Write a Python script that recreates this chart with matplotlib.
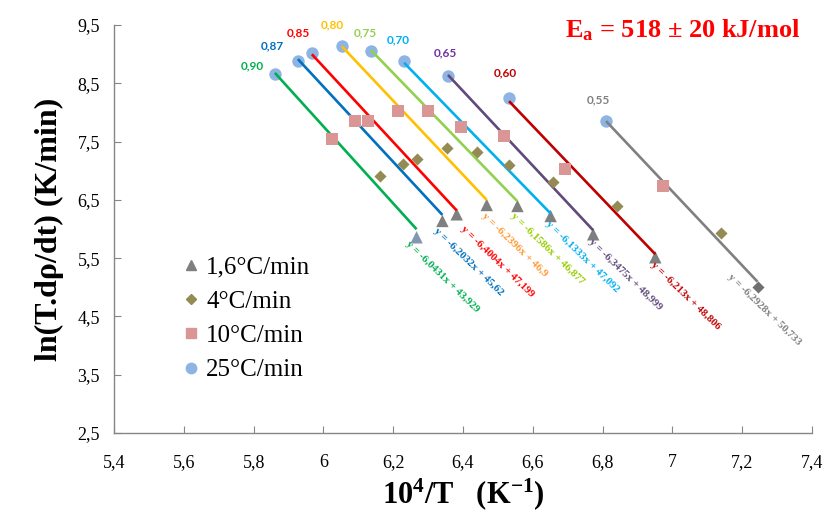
import numpy as np
import matplotlib
matplotlib.use("Agg")
import matplotlib.pyplot as plt
from matplotlib.ticker import FuncFormatter, MultipleLocator, FixedLocator
from matplotlib.lines import Line2D

plt.rcParams['font.family'] = ['Liberation Serif', 'DejaVu Serif']
plt.rcParams['mathtext.fontset'] = 'custom'
plt.rcParams['mathtext.rm'] = 'Liberation Serif'
plt.rcParams['mathtext.bf'] = 'Liberation Serif:bold'
plt.rcParams['mathtext.it'] = 'Liberation Serif:italic'

# ---------------- data ----------------
conversions = ["0,90", "0,87", "0,85", "0,80", "0,75", "0,70", "0,65", "0,60", "0,55"]

x_25 = [5.861, 5.927, 5.967, 6.053, 6.136, 6.231, 6.357, 6.532, 6.810]
y_25 = [8.659, 8.882, 9.020, 9.140, 9.054, 8.880, 8.625, 8.248, 7.853]

x_10 = [6.024, 6.090, 6.128, 6.214, 6.300, 6.394, 6.517, 6.693, 6.974]
y_10 = [7.539, 7.848, 7.858, 8.025, 8.025, 7.755, 7.601, 7.030, 6.743]

x_4 = [6.162, 6.229, 6.268, 6.353, 6.439, 6.533, 6.659, 6.842, 7.138]
y_4 = [6.910, 7.115, 7.196, 7.395, 7.326, 7.104, 6.812, 6.400, 5.927]

x_16 = [6.267, 6.341, 6.382, 6.468, 6.556, 6.651, 6.773, 6.951, 7.244]
y_16 = [5.858, 6.138, 6.252, 6.412, 6.395, 6.223, 5.909, 5.515, 5.000]

eq_slope = [-6.0431, -6.2032, -6.4004, -6.2396, -6.1586, -6.1333, -6.3475, -6.213, -6.2928]
eq_intercept = [43.929, 45.62, 47.199, 46.9, 46.877, 47.092, 48.999, 48.806, 50.733]

y_ticks = [2.5, 3.5, 4.5, 5.5, 6.5, 7.5, 8.5, 9.5]

series_labels = ["1,6°C/min", "4°C/min", "10°C/min", "25°C/min"]
ea_text = r"E$_{\mathbf{a}}$ = 518 ± 20 kJ/mol"

# ---------------- styles ----------------
line_colors = ["#00B050", "#0070C0", "#FF0000", "#FFC000", "#92D050",
               "#00B0F0", "#604A7B", "#C00000", "#808080"]
conv_colors = ["#00B050", "#0070C0", "#FF0000", "#FFC000", "#92D050",
               "#00B0F0", "#7030A0", "#C00000", "#808080"]
eq_colors = ["#00B050", "#0070C0", "#FF0000", "#FF9933", "#99CC00",
             "#00B0F0", "#604A7B", "#C00000", "#808080"]
conv_off = [(-23, 8), (-26, 15), (-14, 20), (-10, 21), (-6, 18),
            (-6, 21), (-3, 23), (-4, 25), (-8, 21)]
eq_off = [(-9, -5), (-7, -9), (5, -13), (-4, -10), (-5, -9),
          (-3, -7), (-3, -6), (-3, -6), (-28, 12)]

c_tri = "#7F7F7F"
c_dia = "#948A54"
c_sq = "#DA9694"
c_circ = "#8EB4E3"

W, H = 826, 512
fig = plt.figure(figsize=(W / 100, H / 100), dpi=100)
ax = fig.add_axes([114 / W, 1 - 433 / H, (812 - 114) / W, (433 - 25) / H])

# markers
ax.scatter(x_25, y_25, marker='o', s=80, color=c_circ, zorder=2, linewidths=0)
ax.scatter(x_10, y_10, marker='s', s=80, color=c_sq, zorder=4, linewidths=0)
ax.scatter(x_4, y_4, marker='D', s=38, color=c_dia, zorder=4, linewidths=0)
tri_cols = ["#8497B0"] + [c_tri] * 7
ax.scatter(x_16[:8], y_16[:8], marker='^', s=80, color=tri_cols, zorder=2, linewidths=0)
ax.scatter(x_16[8:], y_16[8:], marker='D', s=38, color="#707070", zorder=4, linewidths=0)

# trend lines (linear fits through the four points of each conversion)
for i in range(len(conversions)):
    xs = np.array([x_25[i], x_10[i], x_4[i], x_16[i]])
    ys = np.array([y_25[i], y_10[i], y_4[i], y_16[i]])
    p = np.polyfit(xs, ys, 1)
    xx = np.array([xs.min(), xs.max()])
    ax.plot(xx, np.polyval(p, xx), color=line_colors[i], lw=1.9, zorder=3,
            solid_capstyle='butt')
    ax.annotate(conversions[i], (x_25[i], y_25[i]), xytext=conv_off[i],
                textcoords='offset pixels', ha='center', va='center',
                color=conv_colors[i], fontsize=8.5, fontweight='bold',
                family=['Lato', 'DejaVu Sans'], zorder=5)
    eq = f"y = {eq_slope[i]}x + {eq_intercept[i]}".replace('.', ',')
    ax.annotate(eq, (x_16[i], y_16[i]), xytext=eq_off[i],
                textcoords='offset pixels', ha='left', va='center',
                rotation=-44, rotation_mode='anchor',
                color=eq_colors[i], fontsize=7.8, fontweight='bold', zorder=5)

ax.set_xlim(5.4, 7.4)
ax.set_ylim(2.5, 9.5)
ax.xaxis.set_major_locator(MultipleLocator(0.2))
ax.yaxis.set_major_locator(FixedLocator(y_ticks))
fmt = FuncFormatter(lambda v, pos: ("%g" % round(v, 2)).replace('.', ','))
ax.xaxis.set_major_formatter(fmt)
ax.yaxis.set_major_formatter(fmt)

for s in ['top', 'right']:
    ax.spines[s].set_visible(False)
for s in ['left', 'bottom']:
    ax.spines[s].set_color('#868686')
    ax.spines[s].set_linewidth(1.0)
ax.tick_params(direction='in', length=5, color='#868686', labelsize=13,
               labelcolor='black')
ax.tick_params(axis='x', pad=15)
ax.tick_params(axis='y', pad=10)

ax.set_xlabel(r"10$^{\mathbf{4}}$/T   (K$^{\mathbf{-1}}$)", fontsize=22,
              fontweight='bold', labelpad=4)
ax.set_ylabel("ln(T.dρ/dt) (K/min)", fontsize=23, fontweight='bold', labelpad=10)

fig.text(800 / W, 1 - 30 / H, ea_text, fontsize=19, fontweight='bold',
         color='#FF0000', ha='right', va='center')

handles = [
    Line2D([], [], marker='^', ls='none', color=c_tri, markersize=7),
    Line2D([], [], marker='D', ls='none', color=c_dia, markersize=5.5),
    Line2D([], [], marker='s', ls='none', color=c_sq, markersize=7),
    Line2D([], [], marker='o', ls='none', color=c_circ, markersize=7.5),
]
ax.legend(handles, series_labels, loc='upper left',
          bbox_to_anchor=((180 - 114) / 698, (433 - 256) / 408),
          frameon=False, fontsize=18, handletextpad=0.15, labelspacing=0.47,
          handlelength=0.9, borderaxespad=0, borderpad=0)

fig.savefig("out.png", dpi=100)
